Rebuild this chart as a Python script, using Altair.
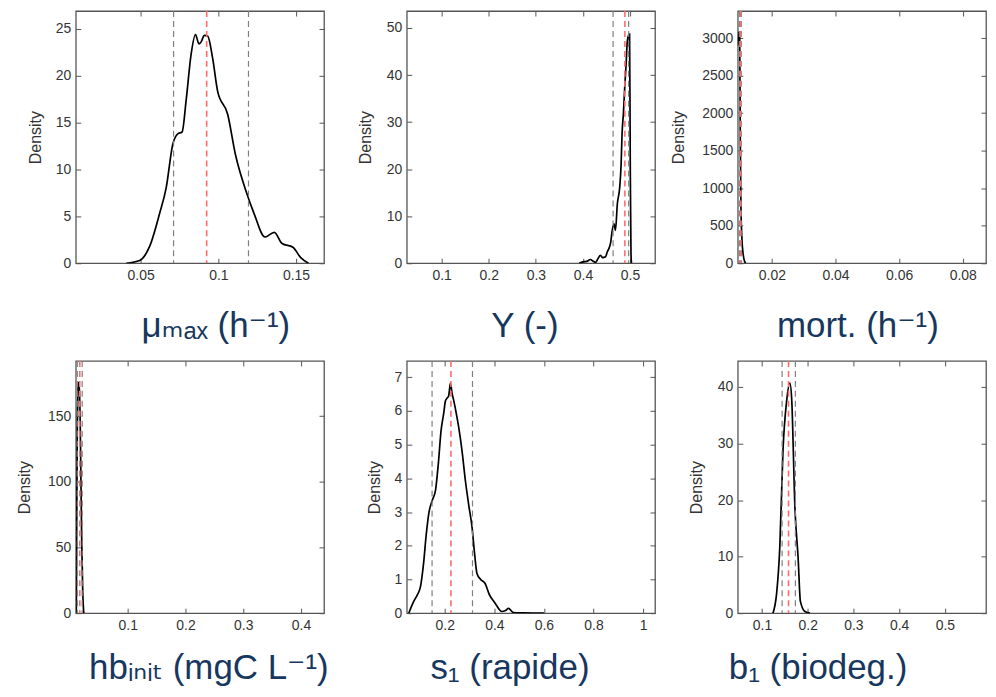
import altair as alt
import pandas as pd

# ---------------- data ----------------
mu_x = [0.0408, 0.0494, 0.0558, 0.0622, 0.0665, 0.0707, 0.0739, 0.0767, 0.0793, 0.0825,
        0.0853, 0.0875, 0.0889, 0.0910, 0.0932, 0.0963, 0.0996, 0.106, 0.111, 0.118,
        0.123, 0.130, 0.136, 0.141, 0.148, 0.153, 0.158]
mu_y = [0, 0.3, 1.8, 5.3, 8.1, 12.7, 13.8, 14.0, 17.4, 22.3,
        24.4, 23.4, 23.6, 24.3, 24.2, 21.9, 18.3, 15.9, 11.6, 7.6,
        5.3, 2.8, 3.3, 2.1, 1.7, 0.6, 0]
mu_q = [0.0712, 0.0925, 0.1194]

Y_x = [0.392, 0.400, 0.408, 0.416, 0.421, 0.427, 0.432, 0.437, 0.442, 0.448,
       0.452, 0.455, 0.459, 0.462, 0.466, 0.469, 0.473, 0.478, 0.481, 0.483,
       0.486, 0.489, 0.492, 0.494, 0.497, 0.499, 0.5005, 0.502, 0.503]
Y_y = [0, 0.3, 0.4, 0.8, 0.5, 0.2, 1.0, 1.7, 1.2, 1.4,
       2.5, 3.1, 4.5, 6.9, 8.4, 7.0, 12.6, 16.1, 21.0, 27.4,
       32.0, 38.0, 43.0, 47.0, 48.5, 48.7, 20.0, 2.0, 0]
Y_q = [0.464, 0.489, 0.497]

mort_x = [0.0093, 0.0096, 0.0099, 0.0101, 0.0103, 0.0106, 0.0110, 0.0114, 0.0118]
mort_y = [2900, 3080, 3060, 1600, 750, 330, 120, 30, 0]
mort_q = [0.0098, 0.01015, 0.0104]

hb_x = [0.0108, 0.0112, 0.0125, 0.0145, 0.0160, 0.0180, 0.0200, 0.0220, 0.0237]
hb_y = [0, 40, 140, 175, 176, 130, 60, 15, 0]
hb_q = [0.0125, 0.0168, 0.0210]

s1_x = [0.055, 0.075, 0.090, 0.102, 0.115, 0.125, 0.136, 0.150, 0.163, 0.175,
        0.185, 0.196, 0.203, 0.209, 0.216, 0.223, 0.230, 0.236, 0.246, 0.256,
        0.270, 0.283, 0.297, 0.310, 0.320, 0.330, 0.345, 0.363, 0.380, 0.404,
        0.430, 0.445, 0.457, 0.477, 0.520, 0.600]
s1_y = [0, 0.35, 0.55, 0.78, 1.5, 2.3, 2.97, 3.35, 3.65, 4.5,
        5.4, 5.93, 6.3, 6.37, 6.45, 6.82, 6.5, 6.32, 5.95, 5.53,
        4.8, 3.95, 3.2, 2.56, 1.8, 1.18, 1.0, 0.88, 0.55, 0.29,
        0.05, 0.08, 0.14, 0.02, 0.01, 0]
s1_q = [0.149, 0.225, 0.312]

b1_x = [0.124, 0.132, 0.139, 0.146, 0.154, 0.161, 0.165, 0.172, 0.179, 0.184, 0.194, 0.205]
b1_y = [0, 3.5, 11.8, 28.9, 37.6, 40.7, 37.8, 18.7, 9.8, 2.1, 0.3, 0]
b1_q = [0.144, 0.158, 0.173]

titles = ["μₘₐₓ (h⁻¹)", "Y (-)", "mort. (h⁻¹)",
          "hbᵢₙᵢₜ (mgC L⁻¹)", "s₁ (rapide)", "b₁ (biodeg.)"]

x_domains = [[0.0083, 0.168], [0.026, 0.553], [0.0093, 0.0873],
             [0.0099, 0.44], [0.047, 1.048], [0.047, 0.59]]
y_domains = [[0, 26.9], [0, 53.6], [0, 3360], [0, 192], [0, 7.48], [0, 44.6]]
x_ticks = [[0.05, 0.1, 0.15], [0.1, 0.2, 0.3, 0.4, 0.5], [0.02, 0.04, 0.06, 0.08],
           [0.1, 0.2, 0.3, 0.4], [0.2, 0.4, 0.6, 0.8, 1], [0.1, 0.2, 0.3, 0.4, 0.5]]
y_ticks = [[0, 5, 10, 15, 20, 25], [0, 10, 20, 30, 40, 50],
           [0, 500, 1000, 1500, 2000, 2500, 3000], [0, 50, 100, 150],
           [0, 1, 2, 3, 4, 5, 6, 7], [0, 10, 20, 30, 40]]

curves = [(mu_x, mu_y, mu_q), (Y_x, Y_y, Y_q), (mort_x, mort_y, mort_q),
          (hb_x, hb_y, hb_q), (s1_x, s1_y, s1_q), (b1_x, b1_y, b1_q)]

# ---------------- layout / styling ----------------
title_x = [140, 118, 120, 133, 103, 80]      # centre of big label, from plot left
title_y = [78, 78, 78, 71, 71, 71]           # baseline below the axis line
dens_pad = [11.4, 12.4, 15, 14.6, 11.2, 12.4]

FONT = "Liberation Sans, Arial, DejaVu Sans, sans-serif"
GREY = "#7f7f7f"
RED = "#ff6b6b"
TITLE_C = "#17375e"
AX = "#555555"
LAB = "#333333"
W, H = 249, 253


def common_axis(**kw):
    base = dict(tickSize=5, offset=-5, domain=False, grid=False, tickColor=AX,
                tickWidth=1, labelFont=FONT, labelFontSize=14, labelColor=LAB,
                labelPadding=5, format=".4~g", labelOverlap=False)
    base.update(kw)
    return alt.Axis(**base)


def panel(i):
    xs, ys, q = curves[i]
    df = pd.DataFrame({"x": xs, "y": ys})
    xsc = alt.Scale(domain=x_domains[i], nice=False, zero=False)
    ysc = alt.Scale(domain=y_domains[i], nice=False, zero=False)

    x_ax = common_axis(orient="bottom", values=x_ticks[i], title=titles[i], titleFont=FONT,
                       titleFontSize=35, titleColor=TITLE_C, titleFontWeight="normal",
                       titleX=title_x[i], titleY=title_y[i], titleAlign="center",
                       titleBaseline="alphabetic")
    y_ax = common_axis(orient="left", values=y_ticks[i], title="Density", titleFont=FONT,
                       titleFontSize=16, titleColor=LAB, titleFontWeight="normal",
                       titlePadding=dens_pad[i])

    line = alt.Chart(df).mark_line(color="black", strokeWidth=1.7,
                                   interpolate="monotone", clip=True).encode(
        x=alt.X("x:Q", scale=xsc, axis=x_ax),
        y=alt.Y("y:Q", scale=ysc, axis=y_ax),
    )
    grey = alt.Chart(pd.DataFrame({"v": [q[0], q[2]]})).mark_rule(
        color=GREY, strokeDash=[6, 4], strokeWidth=1.2, clip=True).encode(
        x=alt.X("v:Q", scale=xsc))
    red = alt.Chart(pd.DataFrame({"v": [q[1]]})).mark_rule(
        color=RED, strokeDash=[6, 4], strokeWidth=1.6, clip=True).encode(
        x=alt.X("v:Q", scale=xsc))
    main = alt.layer(line, grey, red)

    box = alt.Chart(df).mark_line(strokeOpacity=0, clip=True).encode(
        x=alt.X("x:Q", scale=xsc,
                axis=common_axis(orient="top", values=x_ticks[i], labels=False, title=None)),
        y=alt.Y("y:Q", scale=ysc,
                axis=common_axis(orient="right", values=y_ticks[i], labels=False, title=None)),
    )
    return alt.layer(main, box).resolve_scale(x="independent", y="independent").properties(
        width=W, height=H)


chart = alt.concat(*[panel(i) for i in range(6)], columns=3,
                   spacing={"row": 98, "column": 83}, bounds="flush").properties(
    padding={"left": 8, "top": 0, "right": 0, "bottom": 0},
    background="white",
).configure_view(stroke=AX, strokeWidth=1.3)

chart.save("out.html", embed_options={"renderer": "svg", "actions": False})
